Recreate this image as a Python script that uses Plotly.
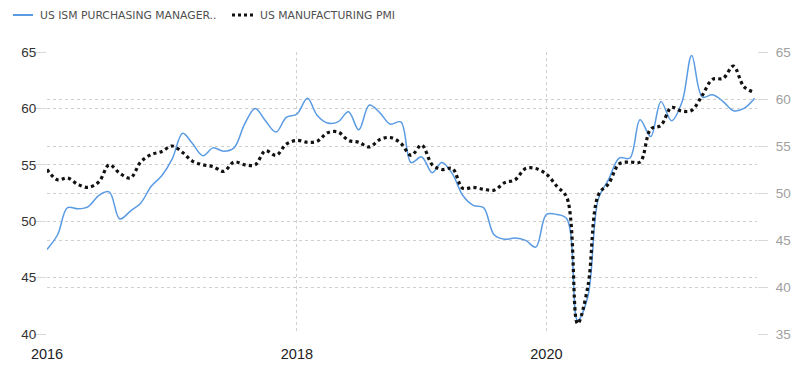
import plotly.graph_objects as go
import pandas as pd

dates = pd.date_range("2016-01-01", periods=69, freq="MS")

ism_pmi = [47.5, 48.8, 51.2, 51.1, 51.3, 52.3, 52.6, 50.2, 50.9, 51.6, 53.1, 54.0,
           55.5, 57.8, 56.9, 55.8, 56.5, 56.2, 56.5, 58.6, 60.0, 58.9, 57.9, 59.2,
           59.5, 60.9, 59.4, 58.7, 58.8, 59.7, 58.1, 60.3, 59.6, 58.6, 58.8, 55.2,
           55.7, 54.3, 55.2, 54.2, 52.3, 51.4, 51.2, 48.8, 48.4, 48.5, 48.3, 47.7,
           50.6, 50.6, 50.2, 41.2, 43.3, 52.0, 53.7, 55.6, 55.6, 59.0, 57.5, 60.6,
           58.9, 60.6, 64.7, 61.0, 61.2, 60.6, 59.8, 60.0, 60.9]

mfg_pmi = [52.5, 51.4, 51.6, 50.9, 50.6, 51.2, 53.0, 52.1, 51.6, 53.3, 54.1, 54.4,
           55.0, 54.3, 53.4, 53.0, 52.8, 52.3, 53.3, 53.0, 53.0, 54.5, 54.0, 55.2,
           55.6, 55.4, 55.5, 56.4, 56.5, 55.6, 55.4, 54.9, 55.7, 55.9, 55.3, 54.0,
           55.1, 53.0, 52.5, 52.6, 50.5, 50.6, 50.4, 50.3, 51.1, 51.4, 52.6, 52.6,
           52.0, 50.7, 49.5, 36.1, 40.0, 49.8, 51.0, 53.1, 53.3, 53.3, 56.8, 57.2,
           59.1, 58.7, 58.8, 60.4, 62.1, 62.2, 63.5, 61.3, 60.7]

series_names = ["US ISM PURCHASING MANAGER..", "US MANUFACTURING PMI"]
series_colors = ["#5a9be3", "#111111"]
x_ticks = ["2016-01-01", "2018-01-01", "2020-01-01"]
x_tick_labels = ["2016", "2018", "2020"]

fig = go.Figure()
fig.add_trace(go.Scatter(
    x=dates, y=ism_pmi, name=series_names[0], mode="lines",
    line=dict(color=series_colors[0], width=1.5, shape="spline", smoothing=1.0),
    yaxis="y"))
fig.add_trace(go.Scatter(
    x=dates, y=mfg_pmi, name=series_names[1], mode="lines",
    line=dict(color=series_colors[1], width=3.2, dash="dot", shape="spline", smoothing=1.0),
    yaxis="y2"))

# Legend drawn by hand (paper coords; plot area is 710 x 282 px, offset 39, 44)
PW, PH, L, T = 710.0, 282.0, 39.0, 44.0
def px(xf):
    return (xf - L) / PW
def py(yf):
    return 1 + (T - yf) / PH

leg_y = py(7)
legend_items = [
    dict(x0=5, x1=25, tx=30, dash="solid", width=2),
    dict(x0=224, x1=245, tx=250, dash="dot", width=3),
]
for item, name, color in zip(legend_items, series_names, series_colors):
    fig.add_shape(type="line", xref="paper", yref="paper",
                  x0=px(item["x0"]), x1=px(item["x1"]), y0=leg_y, y1=leg_y,
                  line=dict(color=color, width=item["width"], dash=item["dash"]))
    fig.add_annotation(xref="paper", yref="paper", x=px(item["tx"]), y=leg_y,
                       xanchor="left", yanchor="middle", showarrow=False,
                       text=name,
                       font=dict(family="DejaVu Sans, sans-serif", size=10.8, color="#505050"))

grid = "#cfcfcf"
fig.update_layout(
    width=792, height=364,
    margin=dict(l=39, r=43, t=44, b=38, autoexpand=False),
    paper_bgcolor="white", plot_bgcolor="white",
    font=dict(family="Liberation Sans, Arial, sans-serif"),
    showlegend=False,
    xaxis=dict(
        range=["2016-01-01", "2021-09-08"],
        tickvals=x_ticks, ticktext=x_tick_labels,
        showgrid=True, gridcolor=grid, griddash="dot", gridwidth=1,
        zeroline=False, showline=False, ticks="",
        ticklabelstandoff=9,
        tickfont=dict(family="Liberation Sans Narrow, Arial Narrow, Liberation Sans, sans-serif",
                      size=14.5, color="#222")),
    yaxis=dict(
        range=[40, 65], dtick=5, tick0=40,
        showgrid=True, gridcolor=grid, griddash="dot", gridwidth=1,
        zeroline=False, showline=False,
        ticks="outside", ticklen=12, tickcolor="#d8d8d8",
        ticklabelstandoff=-5,
        tickfont=dict(size=13.5, color="#333")),
    yaxis2=dict(
        range=[35, 65], dtick=5, tick0=35, overlaying="y", side="right",
        showgrid=True, gridcolor=grid, griddash="dot", gridwidth=1,
        zeroline=False, showline=False,
        ticks="outside", ticklen=10, tickcolor="#d8d8d8",
        ticklabelstandoff=5,
        tickfont=dict(size=13.5, color="#a0a0a0")),
)

fig.write_html("out.html")
